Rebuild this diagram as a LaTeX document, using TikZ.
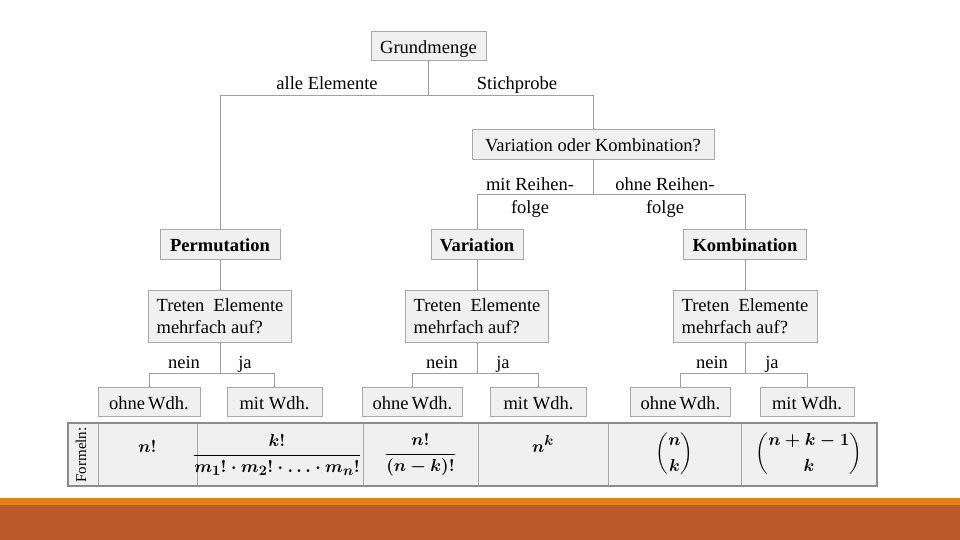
\documentclass[tikz,border=0pt]{standalone}
\usepackage{amsmath}
\usepackage{fontspec}
\setmainfont{Liberation Serif}
\definecolor{boxfill}{HTML}{F0F0F0}
\definecolor{boxline}{HTML}{A8A8A8}
\definecolor{edgecol}{HTML}{A0A0A0}
\definecolor{tabline}{HTML}{8C8C8C}
\definecolor{stripe}{HTML}{E08119}
\definecolor{band}{HTML}{BD5A2A}
\tikzset{
  box/.style={draw=boxline, fill=boxfill, line width=0.9pt, inner sep=0pt,
    minimum height=30, text height=17, text depth=1.5,
    font=\fontsize{18.5}{22}\selectfont},
  bbox/.style={box, font=\fontsize{18.5}{22}\selectfont\bfseries},
  qbox/.style={draw=boxline, fill=boxfill, line width=0.9pt, inner sep=0pt,
    minimum height=52, minimum width=143, align=left,
    font=\fontsize{18.5}{22}\selectfont},
  leaf/.style={box, minimum height=29},
  edge/.style={draw=edgecol, line width=0.9pt},
  lbl/.style={inner sep=0pt, anchor=base, font=\fontsize{18.5}{22}\selectfont, align=center},
  cell/.style={inner sep=0pt, font=\fontsize{19}{22}\selectfont\boldmath},
  bincell/.style={cell, font=\fontsize{16}{19}\selectfont\boldmath},
}
\begin{document}
\begin{tikzpicture}[x=1pt,y=-1pt]
\useasboundingbox (0,0) rectangle (960,540);
\fill[white] (0,0) rectangle (960,540);
% bottom band
\fill[stripe] (0,498) rectangle (960,505);
\fill[band] (0,505) rectangle (960,540);

% nodes
\node[box, minimum width=115, minimum height=29] (grund) at (428.5,45.5) {Grundmenge};
\node[box, minimum width=242] (vok) at (593,144) {Variation oder Kombination?};
\node[bbox, minimum width=120] (perm) at (220,244) {Permutation};
\node[bbox, minimum width=92] (var) at (477,244) {Variation};
\node[bbox, minimum width=123] (komb) at (745,244) {Kombination};
\node[qbox] (q1) at (220,316) {Treten\ \ Elemente\\mehrfach auf?};
\node[qbox] (q2) at (477,316) {Treten\ \ Elemente\\mehrfach auf?};
\node[qbox, minimum width=144] (q3) at (745,316) {Treten\ \ Elemente\\mehrfach auf?};
\node[leaf, minimum width=102] (l1) at (149,401.5) {ohne\,Wdh.};
\node[leaf, minimum width=95] (m1) at (274.5,401.5) {mit Wdh.};
\node[leaf, minimum width=100] (l2) at (412.5,401.5) {ohne\,Wdh.};
\node[leaf, minimum width=96] (m2) at (538.5,401.5) {mit Wdh.};
\node[leaf, minimum width=100] (l3) at (680.5,401.5) {ohne\,Wdh.};
\node[leaf, minimum width=94] (m3) at (807,401.5) {mit Wdh.};

% junctions
\coordinate (j1) at (428.5,95);
\coordinate (j2) at (593,194);
\coordinate (j3) at (220,373);
\coordinate (j4) at (477,373);
\coordinate (j5) at (745,373);

% edges
\draw[edge] (grund.south) -- (j1);
\draw[edge] (perm.north) |- (j1);
\draw[edge] (vok.north) |- (j1);
\draw[edge] (vok.south) -- (j2);
\draw[edge] (var.north) |- (j2);
\draw[edge] (komb.north) |- (j2);
\draw[edge] (perm.south) -- (q1.north);
\draw[edge] (var.south) -- (q2.north);
\draw[edge] (komb.south) -- (q3.north);
\draw[edge] (q1.south) -- (j3);
\draw[edge] (l1.north) |- (j3);
\draw[edge] (m1.north) |- (j3);
\draw[edge] (q2.south) -- (j4);
\draw[edge] (l2.north) |- (j4);
\draw[edge] (m2.north) |- (j4);
\draw[edge] (q3.south) -- (j5);
\draw[edge] (l3.north) |- (j5);
\draw[edge] (m3.north) |- (j5);

% edge labels
\node[lbl] (t1) at (327,90) {alle Elemente};
\node[lbl] (t2) at (517,90) {Stichprobe};
\node[lbl] (t3) at (530,213) {mit Reihen-\\[1pt]folge};
\node[lbl] (t4) at (665,213) {ohne Reihen-\\[1pt]folge};
\node[lbl] (n1) at (184,368) {nein};
\node[lbl] (y1) at (245,368) {ja};
\node[lbl] (n2) at (442,368) {nein};
\node[lbl] (y2) at (503,368) {ja};
\node[lbl] (n3) at (712,368) {nein};
\node[lbl] (y3) at (772,368) {ja};

% formula table
\fill[boxfill] (68,423) rectangle (877,486);
\foreach \cx in {98,197,363,478,608,741}
  \draw[draw=boxline, line width=0.9pt] (\cx,423) -- (\cx,486);
\draw[draw=tabline, line width=2.4pt] (68,423) rectangle (877,486);
\node[cell, rotate=90, font=\fontsize{15}{18}\selectfont] (fm) at (81,455) {Formeln:};
\node[cell] (f1) at (147.5,446) {$n!$};
\node[cell] (f2) at (277,455) {$\dfrac{k!}{m_1!\cdot m_2!\cdot \ldots\cdot m_n!}$};
\node[cell] (f3) at (420.5,455) {$\dfrac{n!}{(n-k)!}$};
\node[cell] (f4) at (543,444) {$n^k$};
\node[bincell] (f5) at (674.5,454) {$\dbinom{n}{k}$};
\node[bincell] (f6) at (809,454) {$\dbinom{n+k-1}{k}$};
\end{tikzpicture}
\end{document}
